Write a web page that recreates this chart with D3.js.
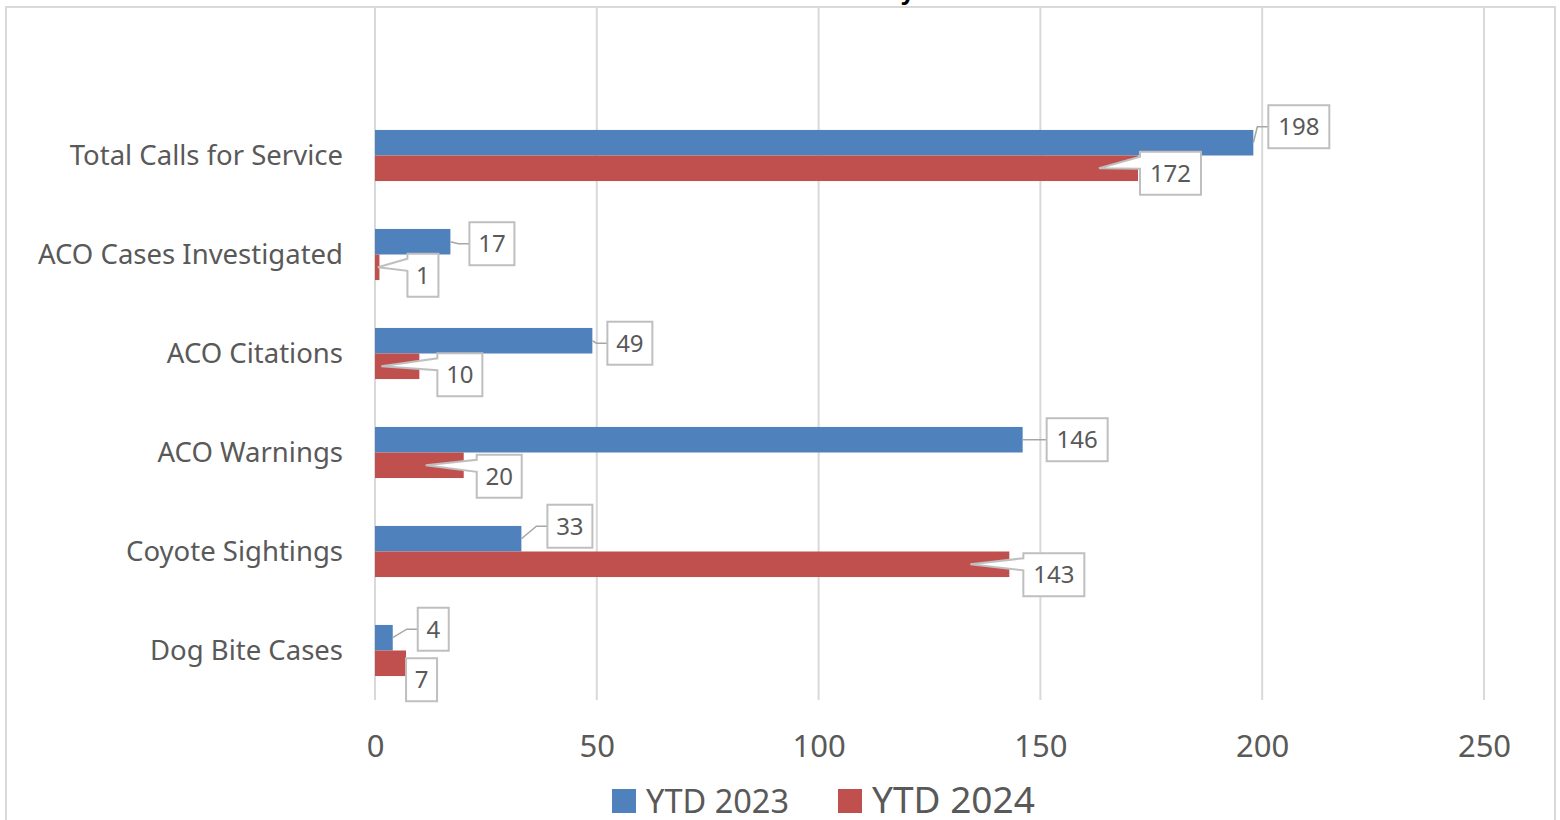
<!DOCTYPE html>
<html>
<head>
<meta charset="utf-8">
<script src="https://cdn.jsdelivr.net/npm/d3@7"></script>
<style>
  html, body { margin: 0; padding: 0; background: #fff; }
  svg { display: block; }
</style>
</head>
<body>
<svg id="chart" width="1560" height="820"></svg>
<script>
// ---- data ----
const categories = ["Total Calls for Service", "ACO Cases Investigated", "ACO Citations", "ACO Warnings", "Coyote Sightings", "Dog Bite Cases"];
const series = ["YTD 2023", "YTD 2024"];
const ytd2023 = [198, 17, 49, 146, 33, 4];
const ytd2024 = [172, 1, 10, 20, 143, 7];
const xTicks = [0, 50, 100, 150, 200, 250];
const title = "Animal Control Activity";

// ---- layout (label placement offsets, not data) ----
const blueOff = [[15, -16], [19, 2], [15, 2.5], [24, 0], [26, -12.5], [25, -8.5]];
const redOff = [[2, 5], [28, 8], [18, 8.5], [13, 11], [14, 10.5], [0, 16.5]];
const redPtr = [-39, -1.5, -38, -38, -39, null];

const colors = ["#4F81BD", "#C0504D"];
const textCol = "#595959";
const font = "'Noto Sans', 'Open Sans', sans-serif";

const svg = d3.select("#chart");
const plot = { left: 375, right: 1484, top: 7, bottom: 700 };

// outer border
svg.append("rect").attr("x", 6).attr("y", 7).attr("width", 1549).attr("height", 830)
  .attr("fill", "#fff").attr("stroke", "#d9d9d9").attr("stroke-width", 2);

// title (mostly cut off at top)
svg.append("text").attr("x", 776).attr("y", -1).attr("text-anchor", "middle")
  .attr("font-family", font).attr("font-weight", "bold").attr("font-size", 24)
  .attr("fill", "#000").text(title);

const x = d3.scaleLinear().domain([0, 250]).range([plot.left, plot.right]);
const yDomain = [""].concat(categories);
const y = d3.scaleBand().domain(yDomain).range([plot.top, plot.bottom]);
const barH = y.bandwidth() * 0.258;

// gridlines
svg.append("g").selectAll("line").data(xTicks).join("line")
  .attr("x1", d => x(d)).attr("x2", d => x(d))
  .attr("y1", 8).attr("y2", plot.bottom)
  .attr("stroke", "#d9d9d9").attr("stroke-width", 2);

// x axis labels
const xAxis = d3.axisBottom(x).tickValues(xTicks).tickSize(0).tickPadding(0);
const gx = svg.append("g").attr("transform", `translate(0, ${plot.bottom})`).call(xAxis);
gx.select(".domain").remove();
gx.selectAll("text").attr("font-family", font).attr("font-size", 31).attr("fill", textCol)
  .attr("dy", null).attr("y", 57);

// y axis labels
const yAxis = d3.axisLeft(y).tickValues(categories).tickSize(0).tickPadding(0);
const gy = svg.append("g").attr("transform", `translate(343, 0)`).call(yAxis);
gy.select(".domain").remove();
gy.selectAll("text").attr("font-family", font).attr("font-size", 27.5).attr("fill", textCol)
  .attr("dy", "0.32em").attr("y", 0.5);

// bars
const vals = [ytd2023, ytd2024];
vals.forEach((arr, s) => {
  svg.append("g").selectAll("rect").data(categories).join("rect")
    .attr("x", x(0))
    .attr("y", (c) => y(c) + y.bandwidth() / 2 - barH + s * barH)
    .attr("width", (c, i) => x(arr[i]) - x(0))
    .attr("height", barH)
    .attr("fill", colors[s]);
});

// labels
const lbl = svg.append("g");
function boxW(v) { return String(v).length >= 3 ? 61 : (String(v).length === 2 ? 45 : 31); }
const boxH = 43;

categories.forEach((c, i) => {
  // blue (YTD 2023) with leader line
  {
    const v = ytd2023[i];
    const cy = y(c) + y.bandwidth() / 2 - barH / 2;
    const ex = x(v);
    const bx = ex + blueOff[i][0];
    const bcy = cy + blueOff[i][1];
    const bw = boxW(v);
    if (Math.abs(blueOff[i][1]) > 1) {
      const elbow = Math.max(ex + 3, bx - 11);
      lbl.append("polyline").attr("points", `${ex},${cy} ${elbow},${bcy} ${bx},${bcy}`)
        .attr("fill", "none").attr("stroke", "#a6a6a6").attr("stroke-width", 1.5);
    } else {
      lbl.append("line").attr("x1", ex).attr("x2", bx).attr("y1", bcy).attr("y2", bcy)
        .attr("stroke", "#a6a6a6").attr("stroke-width", 1.5);
    }
    lbl.append("rect").attr("x", bx).attr("y", bcy - boxH / 2).attr("width", bw).attr("height", boxH)
      .attr("fill", "#fff").attr("stroke", "#bfbfbf").attr("stroke-width", 2);
    lbl.append("text").attr("x", bx + bw / 2).attr("y", bcy).attr("dy", "0.36em")
      .attr("text-anchor", "middle").attr("font-family", font).attr("font-size", 24)
      .attr("fill", textCol).text(v);
  }
  // red (YTD 2024) with wedge callout
  {
    const v = ytd2024[i];
    const cy = y(c) + y.bandwidth() / 2 + barH / 2;
    const ex = x(v);
    const bx = ex + redOff[i][0];
    const bcy = cy + redOff[i][1];
    const bw = boxW(v);
    const top = bcy - boxH / 2;
    const px = redPtr[i] === null ? null : ex + redPtr[i];
    let d;
    if (px === null) {
      d = `M${bx},${top}h${bw}v${boxH}h${-bw}Z`;
    } else {
      const py = cy;
      const w1 = top + 5, w2 = top + 17;
      d = `M${bx},${top}h${bw}v${boxH}h${-bw}V${w2}L${px},${py}L${bx},${w1}Z`;
    }
    lbl.append("path").attr("d", d).attr("fill", "#fff").attr("stroke", "#bfbfbf")
      .attr("stroke-width", 2).attr("stroke-linejoin", "miter");
    lbl.append("text").attr("x", bx + bw / 2).attr("y", bcy).attr("dy", "0.36em")
      .attr("text-anchor", "middle").attr("font-family", font).attr("font-size", 24)
      .attr("fill", textCol).text(v);
  }
});

// legend
const leg = svg.append("g");
const legItems = [
  { name: series[0], color: colors[0], sx: 612, tx: 646, fs: 32.5 },
  { name: series[1], color: colors[1], sx: 838, tx: 872, fs: 37 }
];
legItems.forEach(it => {
  leg.append("rect").attr("x", it.sx).attr("y", 789).attr("width", 24).attr("height", 24).attr("fill", it.color);
  leg.append("text").attr("x", it.tx).attr("y", 813).attr("font-family", font)
    .attr("font-size", it.fs).attr("fill", textCol).text(it.name);
});
</script>
</body>
</html>
